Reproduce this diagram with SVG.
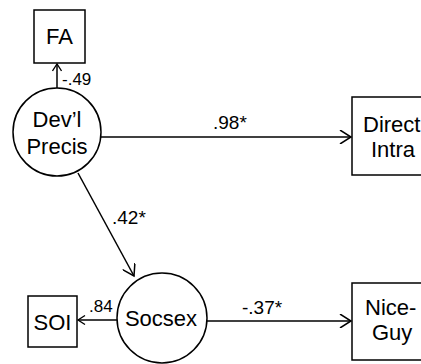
<svg xmlns="http://www.w3.org/2000/svg" width="421" height="364" viewBox="0 0 421 364">
<style>
.n{fill:#fff;stroke:#000;stroke-width:1.5}
.t{font-family:"Liberation Sans",Arial,sans-serif;font-size:22px;fill:#000}
.l{font-family:"Liberation Sans",Arial,sans-serif;font-size:19px;fill:#000}
.s{font-family:"Liberation Sans",Arial,sans-serif;font-size:17px;fill:#000}
.c{stroke:#000;stroke-width:1.5;fill:none}
</style>
<defs>
<marker id="a" markerWidth="14" markerHeight="14" refX="12" refY="7" orient="auto" markerUnits="userSpaceOnUse">
<path d="M1,0 L12,7 L1,14" fill="none" stroke="#000" stroke-width="1.5"/>
</marker>
<marker id="b" markerWidth="10" markerHeight="10" refX="8" refY="5" orient="auto" markerUnits="userSpaceOnUse">
<path d="M1,0.5 L8,5 L1,9.5" fill="none" stroke="#000" stroke-width="1.3"/>
</marker>
</defs>
<rect width="421" height="364" fill="#fff"/>
<g id="connectors">
<line class="c" x1="57" y1="88" x2="57" y2="64" marker-end="url(#b)"/>
<line class="c" x1="101" y1="137" x2="351" y2="137" marker-end="url(#a)"/>
<line class="c" x1="78" y1="173" x2="134" y2="276" marker-end="url(#a)"/>
<line class="c" x1="117" y1="320" x2="78" y2="320" marker-end="url(#b)"/>
<line class="c" x1="207" y1="321" x2="351" y2="321" marker-end="url(#a)"/>
<text class="s" x="62" y="85">-.49</text>
<text class="l" x="213" y="129">.98*</text>
<text class="l" x="112" y="224">.42*</text>
<text class="s" x="89" y="312">.84</text>
<text class="l" x="242" y="314">-.37*</text>
</g>
<g id="FA">
<rect class="n" x="34" y="10" width="51" height="53"/>
<text class="t" x="59.5" y="44" text-anchor="middle">FA</text>
</g>
<g id="DevlPrecis">
<circle class="n" cx="57" cy="132" r="44"/>
<text class="t" x="57" y="127" text-anchor="middle">Dev’l</text>
<text class="t" x="57" y="154" text-anchor="middle">Precis</text>
</g>
<g id="DirectIntra">
<rect class="n" x="352" y="97" width="75" height="78"/>
<text class="t" x="363" y="132">Direct</text>
<text class="t" x="371" y="157">Intra</text>
</g>
<g id="Socsex">
<circle class="n" cx="162" cy="318" r="45"/>
<text class="t" x="161" y="326" text-anchor="middle">Socsex</text>
</g>
<g id="SOI">
<rect class="n" x="28" y="296" width="49" height="51"/>
<text class="t" x="52.5" y="330" text-anchor="middle">SOI</text>
</g>
<g id="NiceGuy">
<rect class="n" x="352" y="283" width="75" height="77"/>
<text class="t" x="365" y="315">Nice-</text>
<text class="t" x="372" y="340">Guy</text>
</g>
</svg>
